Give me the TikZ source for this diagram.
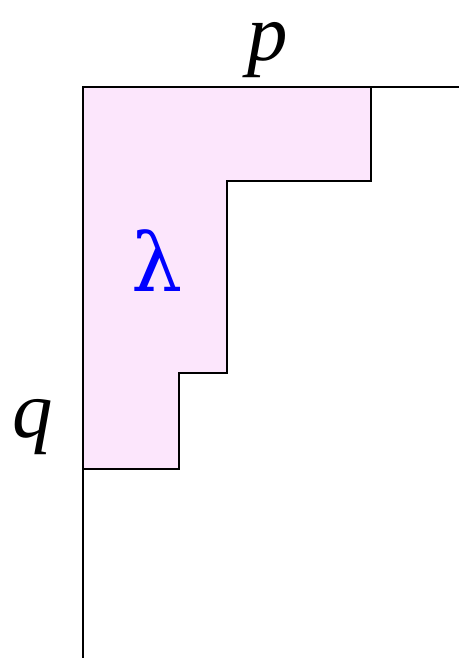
\documentclass[tikz,border=0pt]{standalone}
\usepackage{fontspec}
\setmainfont{Liberation Serif}
\newfontfamily\lamfont{DejaVu Serif}
\definecolor{lampink}{RGB}{252,230,252}
\begin{document}
\begin{tikzpicture}[x=0.96cm,y=0.96cm,
    bigtext/.style={font=\fontsize{46}{50}\selectfont,inner sep=0pt}]
    \useasboundingbox (-1.729,1.8125) rectangle (7.833,-11.896);
    % Young diagram lambda
    \fill[lampink] (0,0) -- (6,0) -- (6,-1.96) -- (3,-1.96) -- (3,-5.96)
        -- (2,-5.96) -- (2,-7.96) -- (0,-7.96) -- cycle;
    \draw[line width=1.1pt] (6,0) -- (6,-1.96) -- (3,-1.96) -- (3,-5.96)
        -- (2,-5.96) -- (2,-7.96) -- (0,-7.96);
    % axes
    \draw[line width=1.1pt] (7.833,0) -- (0,0) -- (0,-11.896);
    \node[bigtext] (plabel) at (3.854,0.78) {\textit{p}};
    \node[bigtext] (qlabel) at (-1.042,-7.08) {\textit{q}};
    \node[bigtext,font=\lamfont\fontsize{46}{50}\selectfont,text=blue] (lamlabel) at (1.542,-3.62) {λ};
\end{tikzpicture}
\end{document}
